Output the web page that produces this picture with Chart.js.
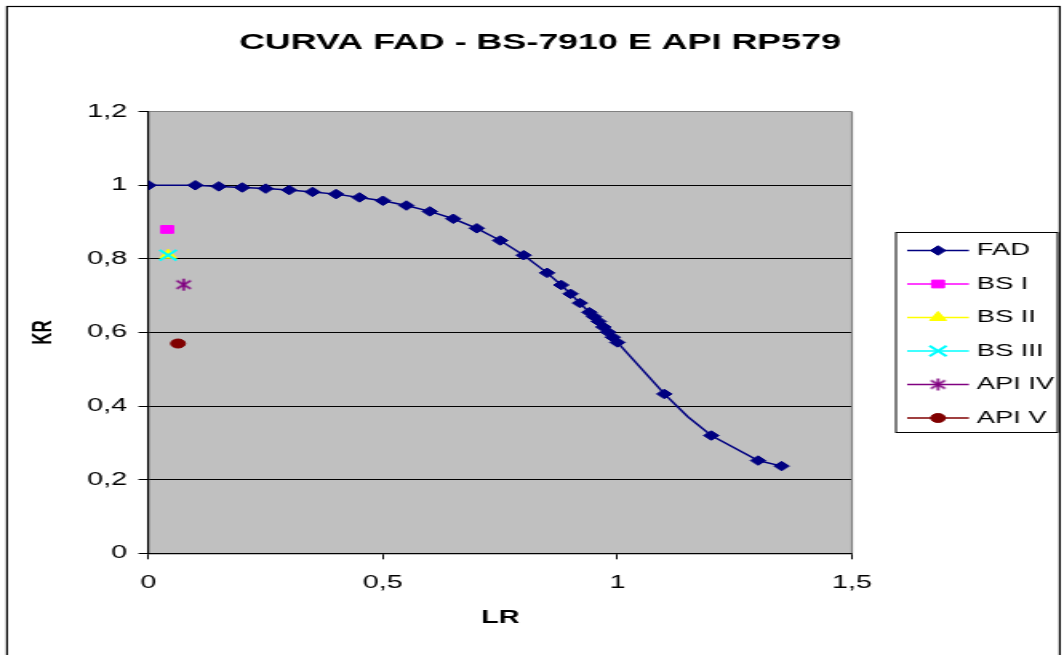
<!DOCTYPE html>
<html>
<head>
<meta charset="utf-8">
<script src="https://cdn.jsdelivr.net/npm/chart.js@4/dist/chart.umd.min.js"></script>
<style>
html,body{margin:0;padding:0;background:#fff;}
canvas{display:block;}
</style>
</head>
<body>
<canvas id="c" width="665" height="655" style="width:1064px;height:655px"></canvas>
<script>
// ---------- DATA ----------
const chartTitle = 'CURVA FAD - BS-7910 E API RP579';
const xAxisTitle = 'LR';
const yAxisTitle = 'KR';
const seriesNames = ['FAD', 'BS I', 'BS II', 'BS III', 'API IV', 'API V'];

const fadLr = [0, 0.1, 0.15, 0.2, 0.25, 0.3, 0.35, 0.4, 0.45, 0.5, 0.55, 0.6, 0.65, 0.7, 0.75, 0.8,
               0.85, 0.88, 0.9, 0.92, 0.94, 0.95, 0.96, 0.97, 0.98, 0.99, 1.0, 1.1, 1.15, 1.2, 1.3, 1.35];
const fadKr = [1.0, 1.0, 0.997, 0.994, 0.991, 0.987, 0.982, 0.976, 0.967, 0.958, 0.945, 0.929, 0.909, 0.883, 0.850, 0.810,
               0.762, 0.729, 0.705, 0.680, 0.655, 0.643, 0.630, 0.615, 0.601, 0.587, 0.573, 0.433, 0.371, 0.320, 0.252, 0.237];
const fadUnmarkedLr = [1.15];

// one point per assessed defect: BS I, BS II, BS III, API IV, API V
const defectLr = [0.04, 0.042, 0.042, 0.075, 0.063];
const defectKr = [0.88, 0.81, 0.81, 0.73, 0.57];

const xTickLabels = ['0', '0,5', '1', '1,5'];
const yTickLabels = ['0', '0,2', '0,4', '0,6', '0,8', '1', '1,2'];

// ---------- STYLE ----------
const FONT = 'Arial, "Liberation Sans", Helvetica, sans-serif';
const seriesColors = ['#000080', '#FF00FF', '#FFFF00', '#00FFFF', '#800080', '#800000'];

function makeAsterisk(color) {
  const c = document.createElement('canvas');
  c.width = 14; c.height = 14;
  const g = c.getContext('2d');
  g.strokeStyle = color; g.lineWidth = 1.6; g.lineCap = 'butt';
  g.beginPath();
  g.moveTo(7, 1); g.lineTo(7, 13);
  g.moveTo(2.6, 2.8); g.lineTo(11.4, 11.2);
  g.moveTo(11.4, 2.8); g.lineTo(2.6, 11.2);
  g.stroke();
  return c;
}
const seriesStyles = ['rectRot', 'rect', 'triangle', 'crossRot', makeAsterisk('#800080'), 'circle'];
const seriesRadius = [4.75, 5.5, 6, 7.5, 6, 4.5];
const seriesPointBorder = [1, 1, 1, 2, 1, 1];

Chart.defaults.font.family = FONT;
Chart.defaults.color = '#000';

// ---------- DATASETS ----------
const datasets = [];
datasets.push({
  label: seriesNames[0],
  data: fadLr.map((x, i) => ({x: x, y: fadKr[i]})),
  showLine: true,
  borderColor: seriesColors[0],
  backgroundColor: seriesColors[0],
  borderWidth: 1.5,
  tension: 0,
  pointStyle: seriesStyles[0],
  pointRadius: (ctx) => (ctx.raw && fadUnmarkedLr.includes(ctx.raw.x)) ? 0 : seriesRadius[0],
  pointBorderWidth: seriesPointBorder[0],
  pointBackgroundColor: seriesColors[0],
  pointBorderColor: seriesColors[0],
  order: 1
});
for (let i = 1; i < seriesNames.length; i++) {
  datasets.push({
    label: seriesNames[i],
    data: [{x: defectLr[i - 1], y: defectKr[i - 1]}],
    showLine: false,
    borderColor: seriesColors[i],
    backgroundColor: seriesColors[i],
    pointStyle: seriesStyles[i],
    pointRadius: seriesRadius[i],
    pointBorderWidth: seriesPointBorder[i],
    pointBackgroundColor: seriesColors[i],
    pointBorderColor: seriesColors[i],
    order: seriesNames[i] === 'BS III' ? 0 : 1
  });
}

// ---------- PLUGINS ----------
const frame = {
  id: 'frame',
  beforeDraw(chart) {
    const {ctx, chartArea: a} = chart;
    ctx.save();
    ctx.fillStyle = '#fff';
    ctx.fillRect(0, 0, chart.width, chart.height);
    ctx.fillStyle = '#C0C0C0';
    ctx.fillRect(a.left, a.top, a.right - a.left, a.bottom - a.top);
    ctx.strokeStyle = '#000';
    ctx.lineWidth = 1.2;
    ctx.strokeRect(4.4, 6.5, 658, 700);
    ctx.restore();
  },
  beforeDatasetsDraw(chart) {
    const {ctx, chartArea: a} = chart;
    ctx.save();
    ctx.strokeStyle = '#808080';
    ctx.lineWidth = 1.2;
    ctx.beginPath();
    ctx.moveTo(a.right, a.top);
    ctx.lineTo(a.right, a.bottom);
    ctx.stroke();
    ctx.restore();
  }
};

const legendPanel = {
  id: 'legendPanel',
  beforeInit(chart) {
    const box = {
      position: 'right', weight: 10, fullSize: false, options: {},
      left: 0, top: 0, right: 0, bottom: 0, width: 0, height: 0,
      isHorizontal() { return false; },
      getPadding() { return {left: 0, right: 0, top: 0, bottom: 0}; },
      update(maxWidth, maxHeight) { this.width = 132.5; this.height = maxHeight; },
      draw() {
        const ctx = chart.ctx;
        const a = chart.chartArea;
        const bl = this.left + 27.5;
        const bt = (a.top + a.bottom) / 2 - 100;
        ctx.save();
        ctx.strokeStyle = '#000';
        ctx.lineWidth = 1;
        ctx.strokeRect(bl, bt, 101, 200);
        chart.data.datasets.forEach((ds, i) => {
          const y = bt + 18 + i * 33.5;
          ctx.strokeStyle = seriesColors[i];
          ctx.lineWidth = 1.5;
          ctx.beginPath();
          ctx.moveTo(bl + 7, y);
          ctx.lineTo(bl + 45.6, y);
          ctx.stroke();
          ctx.fillStyle = seriesColors[i];
          ctx.lineWidth = seriesPointBorder[i];
          Chart.helpers.drawPoint(ctx, {
            pointStyle: seriesStyles[i], rotation: 0,
            radius: seriesRadius[i], borderWidth: seriesPointBorder[i]
          }, bl + 26.3, y);
          ctx.fillStyle = '#000';
          ctx.font = '17px ' + FONT;
          ctx.textBaseline = 'middle';
          ctx.textAlign = 'left';
          ctx.fillText(ds.label, bl + 50.6, y);
        });
        ctx.restore();
      }
    };
    Chart.layouts.addBox(chart, box);
  }
};

// ---------- CHART ----------
new Chart(document.getElementById('c'), {
  type: 'scatter',
  data: {datasets: datasets},
  plugins: [frame, legendPanel],
  options: {
    responsive: false,
    maintainAspectRatio: false,
    devicePixelRatio: 1,
    animation: false,
    layout: {padding: {left: 10, right: 0, top: 0, bottom: 0}},
    plugins: {
      legend: {display: false},
      tooltip: {enabled: false},
      title: {
        display: true,
        text: chartTitle,
        color: '#000',
        font: {size: 22.4, weight: 'bold', family: FONT},
        padding: {top: 29.6, bottom: 55.2}
      }
    },
    scales: {
      x: {
        type: 'linear',
        min: 0, max: 1.5,
        afterFit(s) { s.height = 101.7; },
        ticks: {
          stepSize: 0.5,
          padding: 13.4,
          font: {size: 18},
          color: '#000',
          callback: (v, i) => xTickLabels[i]
        },
        grid: {drawOnChartArea: false, drawTicks: true, tickLength: 6, color: '#000', tickColor: '#000'},
        border: {display: true, color: '#000', width: 1.2},
        title: {
          display: true, text: xAxisTitle, color: '#000',
          font: {size: 18, weight: 'bold'},
          padding: {top: 0, bottom: 25.9}
        }
      },
      y: {
        type: 'linear',
        min: 0, max: 1.2,
        afterFit(s) { s.width = 82.8; },
        ticks: {
          stepSize: 0.2,
          padding: 7,
          font: {size: 18},
          color: '#000',
          callback: (v, i) => yTickLabels[i]
        },
        grid: {
          drawOnChartArea: true, drawTicks: true, tickLength: 6.25,
          color: (c) => (c.tick && Math.abs(c.tick.value - 1.2) < 1e-6) ? '#808080' : '#000',
          tickColor: '#000',
          lineWidth: 1
        },
        border: {display: true, color: '#000', width: 1.2},
        title: {
          display: true, text: yAxisTitle, color: '#000',
          font: {size: 17, weight: 'bold'},
          padding: {top: 7, bottom: 0}
        }
      }
    }
  }
});
</script>
</body>
</html>
